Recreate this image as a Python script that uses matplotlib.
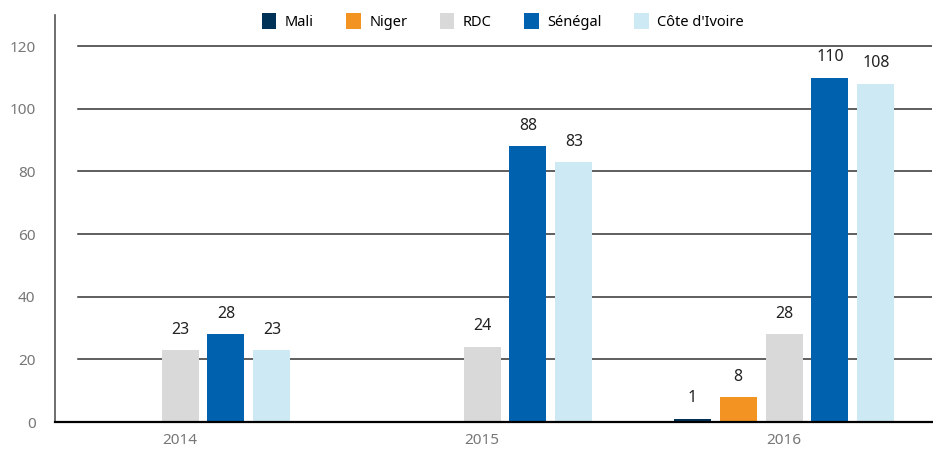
import numpy as np
import matplotlib.pyplot as plt

plt.rcParams["font.family"] = ["Noto Sans", "DejaVu Sans"]

YEARS     = ["2014", "2015", "2016"]
COUNTRIES = ["Mali", "Niger", "RDC", "Sénégal", "Côte d'Ivoire"]
COLORS    = ["#003156", "#F39322", "#D9D9D9", "#0061AE", "#CDE9F4"]

# values per country for 2014, 2015, 2016 (None = no bar)
mali    = [None, None, 1]
niger   = [None, None, 8]
rdc     = [23, 24, 28]
senegal = [28, 88, 110]
civ     = [23, 83, 108]
SERIES  = [mali, niger, rdc, senegal, civ]

YTICKS = [0, 20, 40, 60, 80, 100, 120]

fig = plt.figure(figsize=(9.33, 4.5), dpi=100)
ax = fig.add_axes([0.059, 0.062, 0.940, 0.905])

x = np.arange(len(YEARS))
step, width = 0.152, 0.1225

# gridlines (start a bit right of the left spine)
for t in YTICKS[1:]:
    ax.axhline(t, xmin=0.026, xmax=1, color="#333333", lw=1.1, zorder=1)

for i, (name, vals, col) in enumerate(zip(COUNTRIES, SERIES, COLORS)):
    off = (i - 2) * step
    xs = [xi + off for xi, v in zip(x, vals) if v is not None]
    vs = [v for v in vals if v is not None]
    ax.bar(xs, vs, width=width, color=col, label=name, zorder=2)
    for xx, v in zip(xs, vs):
        ax.text(xx, v + 4, str(v), ha="center", va="bottom",
                fontsize=11.5, color="#222222")

ax.set_xlim(-0.414, 2.490)
ax.set_ylim(0, 130)
ax.set_yticks(YTICKS)
ax.set_xticks(x)
ax.set_xticklabels(YEARS)
ax.tick_params(axis="y", length=0, pad=14, labelsize=11, labelcolor="#777777")
ax.tick_params(axis="x", length=0, pad=8, labelsize=11, labelcolor="#777777")

for s in ["top", "right"]:
    ax.spines[s].set_visible(False)
ax.spines["left"].set_color("#555555")
ax.spines["left"].set_linewidth(1.2)
ax.spines["bottom"].set_color("black")
ax.spines["bottom"].set_linewidth(1.6)
ax.spines["bottom"].set_zorder(3)

fig.legend(loc="center", bbox_to_anchor=(0.539, 0.953), ncol=5, frameon=False,
           fontsize=10.5, handlelength=1.0, handleheight=1.4, handletextpad=0.6,
           columnspacing=2.2)

plt.savefig("out.png", dpi=100)
